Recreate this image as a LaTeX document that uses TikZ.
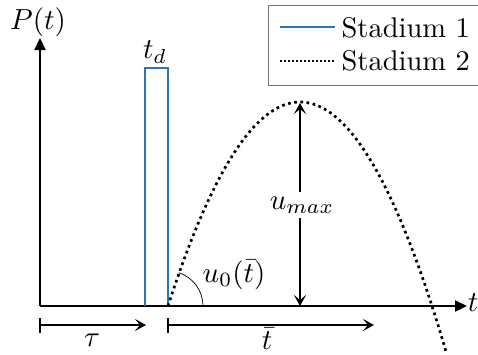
\documentclass[tikz,border=0pt]{standalone}
\usetikzlibrary{arrows.meta}
\definecolor{stblue}{RGB}{46,117,182}
\tikzset{
  axis/.style={line width=2.2pt,-{Triangle[length=12pt,width=11pt]}},
  barb/.style={-{Stealth[length=11pt,width=12pt,inset=5pt]}},
  bracket/.style={line width=2pt,barb},
  dotline/.style={line width=2.7pt,dash pattern=on 2.7pt off 3.5pt},
  lab/.style={scale=2.9,inner sep=0pt},
  leg/.style={scale=2.85,inner sep=0pt,anchor=west}
}
\begin{document}
\begin{tikzpicture}[x=1pt,y=-1pt]
\useasboundingbox (0,0) rectangle (478,354);
\clip (0,0) rectangle (478,354);
% axes
\coordinate (O) at (40,306);
\coordinate (ytip) at (40,38);
\coordinate (xtip) at (467,306);
\draw[axis] (O) -- (ytip);
\draw[axis] (O) -- (xtip);
\node[lab] (P) at (38,22) {$P(t)$};
\node[lab] (tx) at (473,303) {$t$};
% stadium 1 pulse
\draw[stblue,line width=2pt] (145,306) -- (145,68) -- (168,68) -- (168,306);
\node[lab] (td) at (155,52) {$t_d$};
% stadium 2 parabola
\coordinate (S) at (168,306);
\draw[dotline] plot[domain=168:446,samples=120] (\x,{306-204*(1-((\x-300)/132)^2)});
% angle
\draw[line width=0.7pt] (203,306) arc[start angle=0,end angle=-72,radius=35];
\node[lab] (u0) at (234,275) {$u_0(\bar{t})$};
% umax
\coordinate (top) at (300,103);
\coordinate (bot) at (300,306);
\node[lab,fill=white,inner sep=1.5pt] (um) at (302,205) {$u_{max}$};
\draw[line width=2pt,barb] (top|-um.north) -- (top);
\draw[line width=2pt,barb] (bot|-um.south) -- (bot);
% brackets
\coordinate (a1) at (40,318);
\coordinate (a2) at (40,333);
\coordinate (ab) at (40,325);
\coordinate (ae) at (146,325);
\draw[line width=2pt] (a1) -- (a2);
\draw[bracket] (ab) -- (ae);
\node[lab] (tau) at (92,340) {$\tau$};
\coordinate (b1) at (168,318);
\coordinate (b2) at (168,333);
\coordinate (bb) at (168,325);
\coordinate (be) at (374,325);
\draw[line width=2pt] (b1) -- (b2);
\draw[bracket] (bb) -- (be);
\node[lab] (tbar) at (267,339) {$\bar{t}$};
% legend
\draw[line width=1pt,black!55,fill=white] (268,5) rectangle (485,85);
\draw[stblue,line width=2.2pt] (280,27) -- (335,27);
\draw[line width=1.8pt,dash pattern=on 1.8pt off 2.2pt] (280,61) -- (335,61);
\node[leg] (l1) at (341,28) {Stadium 1};
\node[leg] (l2) at (341,61) {Stadium 2};
\end{tikzpicture}
\end{document}
